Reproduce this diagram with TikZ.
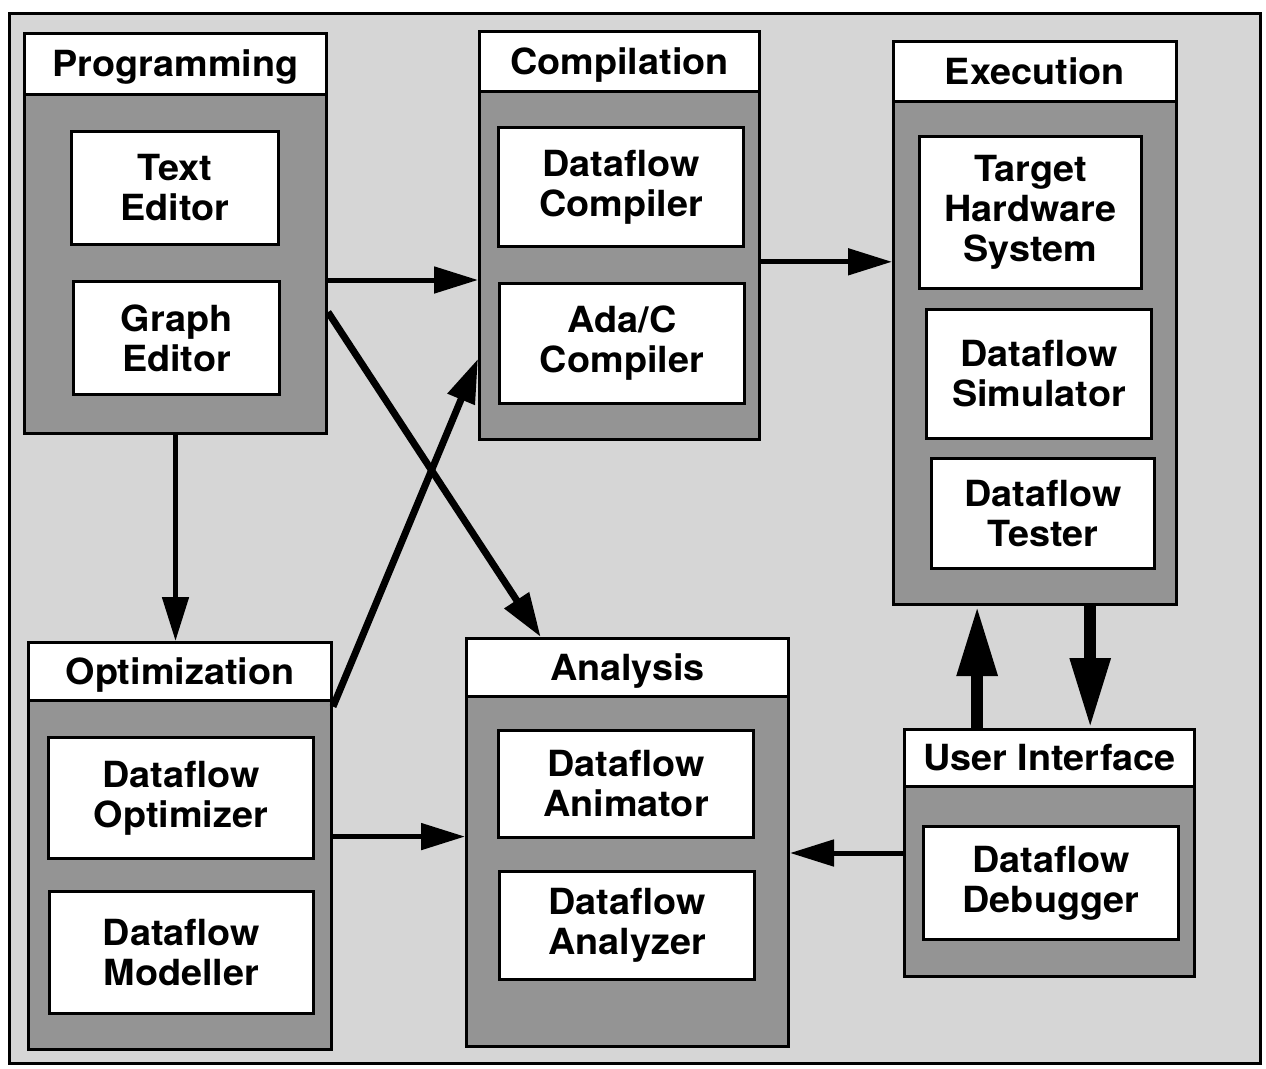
\documentclass[tikz,border=0pt]{standalone}
\usepackage{fontspec}
\setmainfont[FakeStretch=1.05]{TeX Gyre Heros}
\usetikzlibrary{arrows.meta, calc, positioning}

\tikzset{
  module/.style={draw, line width=3pt, fill=black!42, inner sep=0pt, anchor=north west},
  header/.style={draw, line width=3pt, fill=white, inner sep=0pt, anchor=north west,
    text height=25pt, text depth=0pt},
  tool/.style={draw, line width=3pt, fill=white, inner sep=0pt, anchor=north west, align=center},
  flow/.style={line width=5pt, -{Triangle[length=44pt,width=26pt]}},
  xflow/.style={line width=7pt, -{Triangle[length=44pt,width=28pt]}},
  bigflow/.style={line width=12pt, -{Triangle[length=70pt,width=38pt]}},
}

\begin{document}
\begin{tikzpicture}[x=1pt, y=-1pt, font=\fontsize{36}{40}\selectfont\bfseries]
  \useasboundingbox (0,0) rectangle (1266,1068);
  % frame
  \filldraw[fill=black!16, line width=3pt] (9,13) rectangle (1260,1063);
  % Programming
  \node[module, minimum width=302pt, minimum height=400pt] (prog) at (23,32) {};
  \node[header, minimum width=302pt, minimum height=61pt] (progh) at (23,32) {Programming};
  \node[tool, minimum width=207pt, minimum height=113pt] (texted) at (70,130) {Text\\Editor};
  \node[tool, minimum width=206pt, minimum height=113pt] (graphed) at (72,280) {Graph\\Editor};
  % Compilation
  \node[module, minimum width=280pt, minimum height=408pt] (comp) at (478,30) {};
  \node[header, minimum width=280pt, minimum height=60pt] (comph) at (478,30) {Compilation};
  \node[tool, minimum width=245pt, minimum height=119pt] (dfcomp) at (497,126) {Dataflow\\Compiler};
  \node[tool, minimum width=245pt, minimum height=120pt] (adac) at (498,282) {Ada/C\\Compiler};
  % Execution
  \node[module, minimum width=283pt, minimum height=563pt] (exec) at (892,40) {};
  \node[header, minimum width=283pt, minimum height=60pt] (exech) at (892,40) {Execution};
  \node[tool, minimum width=222pt, minimum height=152pt] (target) at (918,135) {Target\\Hardware\\System};
  \node[tool, minimum width=225pt, minimum height=129pt] (simul) at (925,308) {Dataflow\\Simulator};
  \node[tool, minimum width=223pt, minimum height=110pt] (tester) at (930,457) {Dataflow\\Tester};
  % Optimization
  \node[module, minimum width=303pt, minimum height=407pt] (optim) at (27,641) {};
  \node[header, minimum width=303pt, minimum height=58pt] (optimh) at (27,641) {Optimization};
  \node[tool, minimum width=265pt, minimum height=121pt] (dfopt) at (47,736) {Dataflow\\Optimizer};
  \node[tool, minimum width=264pt, minimum height=122pt] (dfmod) at (48,890) {Dataflow\\Modeller};
  % Analysis
  \node[module, minimum width=322pt, minimum height=408pt] (anal) at (465,637) {};
  \node[header, minimum width=322pt, minimum height=58pt] (analh) at (465,637) {Analysis};
  \node[tool, minimum width=255pt, minimum height=107pt] (anim) at (497,729) {Dataflow\\Animator};
  \node[tool, minimum width=255pt, minimum height=108pt] (analyz) at (498,870) {Dataflow\\Analyzer};
  % User Interface
  \node[module, minimum width=290pt, minimum height=247pt] (ui) at (903,728) {};
  \node[header, minimum width=290pt, minimum height=57pt] (uih) at (903,728) {User Interface};
  \node[tool, minimum width=255pt, minimum height=113pt] (debug) at (922,825) {Dataflow\\Debugger};
  % connectors
  \draw[flow] (prog.east |- graphed.north) -- (comp.west |- graphed.north);
  \draw[xflow] ($(prog.north east)!0.695!(prog.south east)$) -- ($(anal.north west)!0.233!(anal.north east)$);
  \draw[xflow] ($(optim.north east)!0.16!(optim.south east)$) -- ($(comp.north west)!0.80!(comp.south west)$);
  \draw[flow] (prog.south) -- (prog.south |- optim.north);
  \coordinate (c1) at ($(comp.north east)!0.564!(comp.south east)$);
  \draw[flow] (c1) -- (c1 -| exec.west);
  \coordinate (c2) at ($(optim.north east)!0.477!(optim.south east)$);
  \draw[flow] (c2) -- (c2 -| anal.west);
  \draw[flow] (ui.west) -- (ui.west -| anal.east);
  \coordinate (c3) at ($(ui.north west)!0.253!(ui.north east)$);
  \draw[bigflow] (c3) -- (c3 |- exec.south);
  \coordinate (c4) at ($(exec.south west)!0.693!(exec.south east)$);
  \draw[bigflow] (c4) -- (c4 |- ui.north);
\end{tikzpicture}
\end{document}
